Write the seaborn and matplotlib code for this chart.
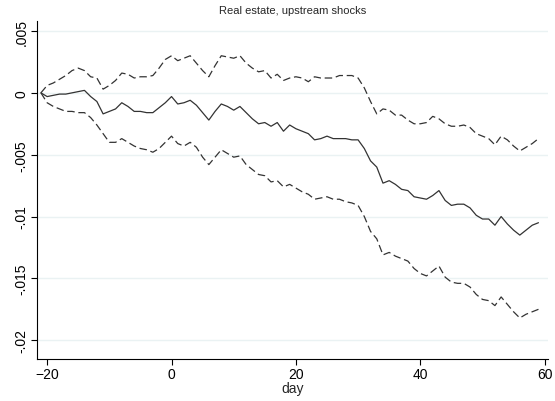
import numpy as np
import pandas as pd
import seaborn as sns
import matplotlib
matplotlib.use("Agg")
import matplotlib.pyplot as plt

day = list(range(-21, 60))
est = [0, -0.0003, -0.0002, -0.0001, -0.0001, 0.0, 0.0001, 0.0002, -0.0003, -0.0007, -0.0017, -0.0015, -0.0013, -0.0008,
       -0.0011, -0.0015, -0.0015, -0.0016, -0.0016, -0.0012, -0.0008, -0.0003, -0.0009, -0.0008, -0.0006, -0.0010,
       -0.0016, -0.0022, -0.0015, -0.0009, -0.0011, -0.0014, -0.0011, -0.0016, -0.0021, -0.0025, -0.0024, -0.0027,
       -0.0024, -0.0031, -0.0026, -0.0029, -0.0031, -0.0033, -0.0038, -0.0037, -0.0035, -0.0037, -0.0037, -0.0037,
       -0.0038, -0.0038, -0.0045, -0.0055, -0.0060, -0.0073, -0.0071, -0.0074, -0.0078, -0.0079, -0.0084, -0.0085,
       -0.0086, -0.0083, -0.0079, -0.0087, -0.0091, -0.0090, -0.0090, -0.0093, -0.0099, -0.0102, -0.0102, -0.0107,
       -0.0100, -0.0106, -0.0111, -0.0115, -0.0111, -0.0107, -0.0105]
upper = [0, 0.0006, 0.0008, 0.0011, 0.0014, 0.0018, 0.0020, 0.0018, 0.0013, 0.0012, 0.0003, 0.0006, 0.0010, 0.0016,
         0.0015, 0.0012, 0.0013, 0.0013, 0.0014, 0.0020, 0.0027, 0.0030, 0.0026, 0.0028, 0.0030, 0.0024, 0.0018,
         0.0013, 0.0022, 0.0030, 0.0029, 0.0028, 0.0030, 0.0024, 0.0020, 0.0017, 0.0018, 0.0012, 0.0015, 0.0010,
         0.0012, 0.0013, 0.0012, 0.0009, 0.0013, 0.0012, 0.0012, 0.0012, 0.0014, 0.0014, 0.0014, 0.0012, 0.0004,
         -0.0007, -0.0017, -0.0013, -0.0014, -0.0018, -0.0018, -0.0022, -0.0025, -0.0025, -0.0024, -0.0019, -0.0021,
         -0.0025, -0.0027, -0.0027, -0.0026, -0.0028, -0.0033, -0.0035, -0.0037, -0.0042, -0.0035, -0.0038, -0.0043,
         -0.0047, -0.0044, -0.0041, -0.0037]
lower = [0, -0.0008, -0.0011, -0.0013, -0.0015, -0.0015, -0.0016, -0.0016, -0.0020, -0.0026, -0.0033, -0.0040, -0.0040,
         -0.0037, -0.0040, -0.0043, -0.0045, -0.0046, -0.0048, -0.0045, -0.0040, -0.0035, -0.0041, -0.0043, -0.0040,
         -0.0044, -0.0052, -0.0058, -0.0052, -0.0046, -0.0049, -0.0052, -0.0051, -0.0058, -0.0062, -0.0066, -0.0067,
         -0.0072, -0.0071, -0.0076, -0.0074, -0.0077, -0.0080, -0.0082, -0.0086, -0.0085, -0.0084, -0.0086, -0.0086,
         -0.0088, -0.0089, -0.0091, -0.0100, -0.0112, -0.0118, -0.0131, -0.0129, -0.0132, -0.0134, -0.0136, -0.0142,
         -0.0146, -0.0148, -0.0144, -0.0140, -0.0149, -0.0153, -0.0154, -0.0154, -0.0157, -0.0163, -0.0167, -0.0168,
         -0.0172, -0.0165, -0.0171, -0.0177, -0.0182, -0.0179, -0.0177, -0.0175]

df = pd.DataFrame({"day": day, "est": est, "upper": upper, "lower": lower})

sns.set_style("white")
plt.rcParams['font.family'] = ['Liberation Sans', 'DejaVu Sans']
fig = plt.figure(figsize=(5.55, 4.02), dpi=100)
ax = fig.add_axes([0.067, 0.105, 0.92, 0.84])
for y in [0.005, 0, -0.005, -0.01, -0.015, -0.02]:
    ax.axhline(y, color="#eaf2f3", lw=1, zorder=0)
sns.lineplot(data=df, x="day", y="upper", ax=ax, color="#333333", lw=0.9, linestyle=(0, (6, 3)))
sns.lineplot(data=df, x="day", y="est", ax=ax, color="#333333", lw=0.9)
sns.lineplot(data=df, x="day", y="lower", ax=ax, color="#333333", lw=0.9, linestyle=(0, (6, 3)))
ax.set_xlim(-21.6, 60.5)
ax.set_ylim(-0.0215, 0.0058)
ax.set_xticks([-20, 0, 20, 40, 60])
ax.set_yticks([0.005, 0, -0.005, -0.01, -0.015, -0.02])
ax.set_yticklabels([".005", "0", "-.005", "-.01", "-.015", "-.02"], rotation=90, va="center")
ax.tick_params(axis="both", direction="out", length=4, width=0.8, colors="black", labelsize=10, bottom=True, left=True, pad=2)
ax.set_xlabel("day", fontsize=10, labelpad=0)
ax.set_ylabel("")
ax.set_title("Real estate, upstream shocks", fontsize=8, pad=6)
for s in ["top", "right"]:
    ax.spines[s].set_visible(False)
for s in ["left", "bottom"]:
    ax.spines[s].set_color("black")
    ax.spines[s].set_linewidth(0.8)
fig.savefig("out.png", dpi=100)
